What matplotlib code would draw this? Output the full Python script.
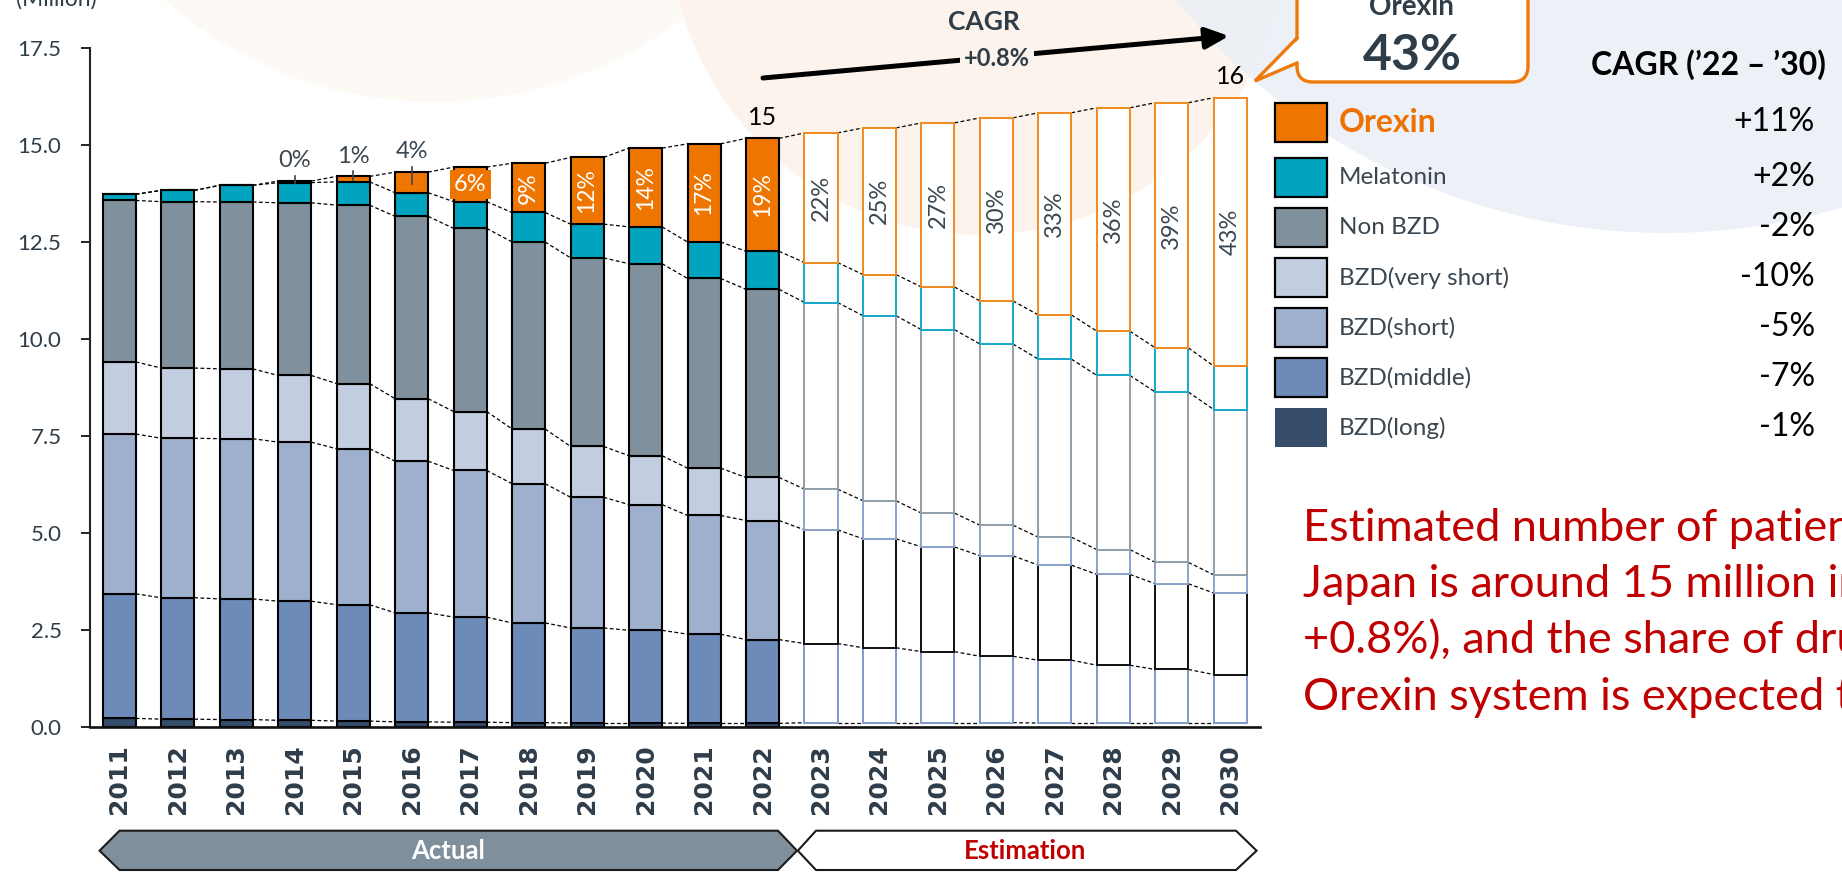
import matplotlib
matplotlib.use('Agg')
import matplotlib.pyplot as plt
from matplotlib.patches import Polygon, Circle, FancyBboxPatch, Rectangle
import numpy as np

plt.rcParams['font.family'] = ['Lato', 'DejaVu Sans']

# ---------------- data ----------------
years = [str(y) for y in range(2011, 2031)]
n_actual = 12  # 2011-2022 actual, 2023-2030 estimation

bzd_long = [0.23, 0.21, 0.20, 0.18, 0.16, 0.14, 0.13, 0.12, 0.11, 0.11, 0.10, 0.10,
            0.12, 0.12, 0.12, 0.12, 0.11, 0.11, 0.11, 0.11]
bzd_middle = [3.21, 3.13, 3.11, 3.07, 3.00, 2.81, 2.71, 2.57, 2.45, 2.39, 2.30, 2.16,
              2.04, 1.93, 1.83, 1.71, 1.62, 1.49, 1.38, 1.25]
bzd_short = [4.12, 4.11, 4.13, 4.10, 4.02, 3.91, 3.78, 3.59, 3.37, 3.24, 3.06, 3.07,
             2.93, 2.81, 2.70, 2.59, 2.45, 2.34, 2.21, 2.10]
bzd_very_short = [1.86, 1.81, 1.80, 1.72, 1.68, 1.61, 1.52, 1.41, 1.31, 1.26, 1.22, 1.11,
                  1.05, 0.98, 0.87, 0.79, 0.72, 0.64, 0.55, 0.47]
non_bzd = [4.16, 4.29, 4.30, 4.45, 4.60, 4.70, 4.72, 4.82, 4.86, 4.95, 4.89, 4.85,
           4.81, 4.77, 4.73, 4.67, 4.59, 4.49, 4.39, 4.26]
melatonin = [0.16, 0.29, 0.43, 0.52, 0.60, 0.61, 0.69, 0.76, 0.87, 0.95, 0.94, 0.98,
             1.03, 1.06, 1.10, 1.11, 1.14, 1.14, 1.14, 1.12]
orexin = [0.00, 0.00, 0.00, 0.04, 0.14, 0.53, 0.89, 1.27, 1.72, 2.03, 2.53, 2.91,
          3.34, 3.78, 4.23, 4.72, 5.21, 5.76, 6.32, 6.92]

orexin_share_labels = ['', '', '', '0%', '1%', '4%', '6%', '9%', '12%', '14%', '17%', '19%',
                       '22%', '25%', '27%', '30%', '33%', '36%', '39%', '43%']
total_label_years = ['2022', '2030']
total_label_texts = ['15', '16']

series_names = ['BZD(long)', 'BZD(middle)', 'BZD(short)', 'BZD(very short)',
                'Non BZD', 'Melatonin', 'Orexin']
cagr_labels = ['-1%', '-7%', '-5%', '-10%', '-2%', '+2%', '+11%']
y_ticks = [0.0, 2.5, 5.0, 7.5, 10.0, 12.5, 15.0, 17.5]

# ---------------- styles ----------------
fill_colors = ['#364c6b', '#6c8bb8', '#9eb0cd', '#c3cde0', '#80919d', '#00a4bf', '#ee7600']
est_edges = ['none', '#7f9bc9', '#111111', '#8da3cc', '#8f9faa', '#15aacb', '#f08a1e']
dark_text = '#2f3d48'
label_gray = '#3a4650'
peach = '#fcf4ec'

W, H = 1842, 873
fig = plt.figure(figsize=(W / 100, H / 100), dpi=100)
fig.patch.set_facecolor('white')

# background / decoration layer in pixel coordinates
bg = fig.add_axes([0, 0, 1, 1])
bg.set_xlim(0, W)
bg.set_ylim(H, 0)
bg.axis('off')
bg.add_patch(Circle((435, -309), 411, facecolor='#fdf9f5', edgecolor='none', zorder=0))
bg.add_patch(Circle((980, -75), 310, facecolor=peach, edgecolor='none', zorder=0))
bg.add_patch(Circle((1665, -397), 630, facecolor='#e9eef6', edgecolor='none', alpha=0.8, zorder=0))

# ---------------- main chart ----------------
ax = fig.add_axes([90 / W, (H - 727.3) / H, (1259.6 - 90) / W, (727.3 - 48.4) / H])
ax.patch.set_alpha(0)

x = np.arange(len(years))
w = 0.565
stack = np.array([bzd_long, bzd_middle, bzd_short, bzd_very_short, non_bzd, melatonin, orexin])
cum = np.cumsum(stack, axis=0)
bottom = np.zeros(len(years))
for k in range(len(stack)):
    vals = stack[k]
    ax.bar(x[:n_actual], vals[:n_actual], width=w, bottom=bottom[:n_actual],
           color=fill_colors[k], edgecolor='black', linewidth=1.5, zorder=2)
    ax.bar(x[n_actual:], vals[n_actual:], width=w, bottom=bottom[n_actual:],
           color='white', edgecolor=est_edges[k], linewidth=1.4, zorder=2)
    bottom = bottom + vals

# dashed connectors between bars
for r in range(cum.shape[0]):
    for i in range(len(years) - 1):
        ax.plot([x[i] + w / 2, x[i + 1] - w / 2], [cum[r, i], cum[r, i + 1]],
                ls=(0, (3, 2)), color='black', lw=0.9, zorder=1)

total = cum[-1]
orx_bottom = cum[-2]
for i, lab in enumerate(orexin_share_labels):
    if not lab:
        continue
    mid = (orx_bottom[i] + total[i]) / 2
    if i < 6:
        ly = total[i] + 0.52
        ax.text(x[i], ly, lab, ha='center', va='center', fontsize=17, color=label_gray, zorder=4)
        ax.plot([x[i], x[i]], [ly - 0.38, total[i] - 0.03 - orexin[i] * 0.5],
                color=label_gray, lw=1.2, zorder=4)
    elif i == 6:
        ax.text(x[i], mid, lab, ha='center', va='center', fontsize=17, color='white', zorder=4,
                bbox=dict(boxstyle='square,pad=0.18', facecolor=fill_colors[-1], edgecolor='none'))
    elif i < n_actual:
        ax.text(x[i], mid, lab, ha='center', va='center', rotation=90, fontsize=16.5,
                color='white', zorder=4)
    else:
        ax.text(x[i], mid, lab, ha='center', va='center', rotation=90, fontsize=17,
                color=label_gray, zorder=4)

for yr, txt in zip(total_label_years, total_label_texts):
    i = years.index(yr)
    ax.text(x[i], total[i] + 0.55, txt, ha='center', va='center', fontsize=18,
            color='black', zorder=4)

ax.set_xlim(-0.5, 19.5)
ax.set_ylim(0, 17.5)
ax.set_yticks(y_ticks)
ax.set_yticklabels([f'{t:.1f}' for t in y_ticks])
ax.set_xticks(x)
ax.set_xticklabels(years, rotation=90, fontsize=18, fontweight='bold',
                   family='DejaVu Sans', color='#2e3d49')
ax.tick_params(axis='x', length=0, pad=12)
ax.tick_params(axis='y', direction='out', length=6.5, width=1.4, color='#222222',
               labelsize=16, labelcolor=dark_text, pad=14)
for s in ['top', 'right']:
    ax.spines[s].set_visible(False)
ax.spines['left'].set_linewidth(1.5)
ax.spines['left'].set_color('#222222')
ax.spines['bottom'].set_linewidth(1.9)
ax.spines['bottom'].set_color('#111111')

# unit label (cut at top, as in the reference)
bg.text(16, 6, '(Million)', ha='left', va='baseline', fontsize=16.5, color=dark_text)

# CAGR arrow
bg.annotate('', xy=(1229, 36), xytext=(763, 78),
            arrowprops=dict(arrowstyle='-|>,head_length=0.7,head_width=0.32', lw=3.6,
                            color='black', mutation_scale=20, shrinkA=0, shrinkB=0), zorder=3)
bg.text(984, 29.5, 'CAGR', ha='center', va='baseline', fontsize=19, fontweight='bold',
        color=dark_text, zorder=4)
bg.text(997, 65.5, '+0.8%', ha='center', va='baseline', fontsize=17, fontweight='bold',
        color=dark_text, zorder=4,
        bbox=dict(boxstyle='square,pad=0.15', facecolor=peach, edgecolor='none'))

# callout box
orange = '#ef7a0b'
bg.add_patch(FancyBboxPatch((1297, -40), 231, 122, boxstyle='round,pad=0,rounding_size=16',
                            facecolor='white', edgecolor=orange, lw=2.4, zorder=3))
bg.add_patch(Polygon([(1300, 38), (1255, 81), (1300, 63)], closed=True,
                     facecolor='white', edgecolor='none', zorder=4))
bg.plot([1297, 1255, 1297], [38, 81, 63], color=orange, lw=2.4, zorder=5,
        solid_joinstyle='miter')
bg.text(1411, 15, 'Orexin', ha='center', va='baseline', fontsize=20, fontweight='bold',
        color=dark_text, zorder=6)
bg.text(1412, 70, '43%', ha='center', va='baseline', fontsize=36, fontweight='bold',
        color=dark_text, zorder=6)

# legend with CAGR
bg.text(1591, 75, 'CAGR (\u201922 \u2013 \u201930)', ha='left', va='baseline', fontsize=23,
        fontweight='bold', color='black', zorder=6)
for j, name in enumerate(series_names[::-1]):
    k = len(series_names) - 1 - j
    cy = 122 if j == 0 else 177.5 + 50 * (j - 1)
    ec = 'none' if name == 'BZD(long)' else 'black'
    bg.add_patch(Rectangle((1275, cy - 19.5), 52, 39, facecolor=fill_colors[k],
                           edgecolor=ec, lw=1.6, zorder=6))
    if name == 'Orexin':
        bg.text(1339, cy, name, ha='left', va='center', fontsize=23, fontweight='bold',
                color='#ee7203', zorder=6)
    else:
        bg.text(1339, cy, name, ha='left', va='center', fontsize=17.5,
                color=label_gray, zorder=6)
    bg.text(1815, cy, cagr_labels[k], ha='right', va='center', fontsize=23,
            color='black', zorder=6)

# red statement (runs past the right edge, as in the reference)
red_lines = ['Estimated number of patients with insomnia in',
             'Japan is around 15 million in 2022 (CAGR',
             '+0.8%), and the share of drugs targeting the',
             'Orexin system is expected to reach 43% by 2030']
for ln, by in zip(red_lines, [541, 597, 653, 710]):
    bg.text(1303, by, ln, ha='left', va='baseline', fontsize=32.5, color='#c00000', zorder=6)

# bottom banners
bg.add_patch(Polygon([(99.6, 850.7), (119.5, 830.7), (778, 830.7), (797, 850.7),
                      (778, 870), (119.5, 870)], closed=True, facecolor='#7f909c',
                     edgecolor='#1a1a1a', lw=1.5, zorder=3))
bg.add_patch(Polygon([(797.8, 850.7), (816, 830.7), (1236, 830.7), (1256.6, 850.7),
                      (1236, 870), (816, 870)], closed=True, facecolor='white',
                     edgecolor='#1a1a1a', lw=1.5, zorder=3))
bg.text(448, 851, 'Actual', ha='center', va='center', fontsize=18.5, fontweight='bold',
        color='white', zorder=4)
bg.text(1025, 851, 'Estimation', ha='center', va='center', fontsize=18.5, fontweight='bold',
        color='#c00000', zorder=4)

fig.savefig('out.png', dpi=100)
